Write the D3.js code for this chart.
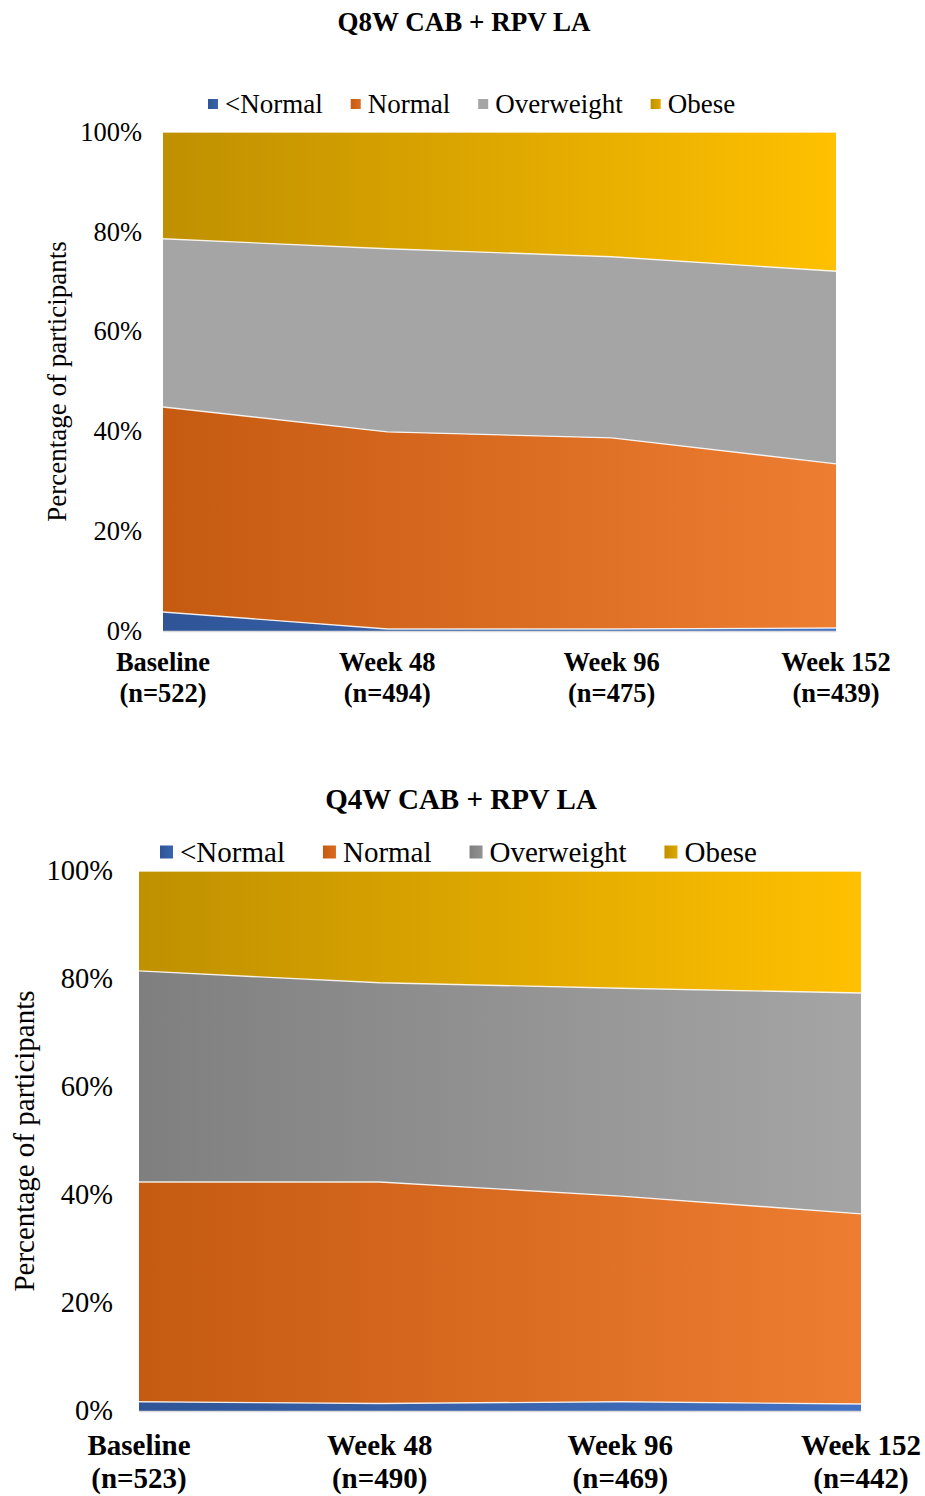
<!DOCTYPE html>
<html>
<head>
<meta charset="utf-8">
<script src="https://cdn.jsdelivr.net/npm/d3@7"></script>
<style>
  html, body { margin: 0; padding: 0; background: #fff; }
  svg { display: block; }
  text { font-family: "Liberation Serif", "Times New Roman", serif; fill: #000; }
</style>
</head>
<body>
<svg id="chart" width="925" height="1496"></svg>
<script>
// BMI category shares (%) at each visit, stacked to 100%
const categories = ["<Normal", "Normal", "Overweight", "Obese"];

const q8wVisits = ["Baseline", "Week 48", "Week 96", "Week 152"];
const q8wCounts = ["(n=522)", "(n=494)", "(n=475)", "(n=439)"];
const q8wBelowNormal = [3.8, 0.4, 0.4, 0.6];
const q8wNormal      = [41.1, 39.5, 38.3, 32.9];
const q8wOverweight  = [33.7, 36.7, 36.3, 38.6];
const q8wObese       = [21.4, 23.4, 25.0, 27.9];

const q4wVisits = ["Baseline", "Week 48", "Week 96", "Week 152"];
const q4wCounts = ["(n=523)", "(n=490)", "(n=469)", "(n=442)"];
const q4wBelowNormal = [1.7, 1.4, 1.7, 1.3];
const q4wNormal      = [40.7, 41.0, 38.1, 35.2];
const q4wOverweight  = [39.1, 36.9, 38.5, 40.9];
const q4wObese       = [18.5, 20.7, 21.7, 22.6];

const yTicks = [0, 20, 40, 60, 80, 100];

const svg = d3.select("#chart");
const defs = svg.append("defs");

function label(parent, x, y, str, opts) {
  return parent.append("text")
    .attr("x", x).attr("y", y)
    .attr("text-anchor", opts.anchor || "start")
    .style("font-size", opts.size + "px")
    .style("font-weight", opts.bold ? "bold" : "normal")
    .text(str);
}

function drawChart(cfg) {
  const id = cfg.id;
  const rows = cfg.visits.map((v, i) => ({
    visit: v,
    "<Normal": cfg.series[0][i],
    "Normal": cfg.series[1][i],
    "Overweight": cfg.series[2][i],
    "Obese": cfg.series[3][i]
  }));

  const x = d3.scalePoint().domain(cfg.visits).range([cfg.left, cfg.right]).padding(0);
  const y = d3.scaleLinear().domain([0, 100]).range([cfg.bottom, cfg.top]);

  const layers = d3.stack().keys(categories)(rows);

  // horizontal fill gradients across the plot, plus small legend swatch gradients
  layers.forEach((layer, i) => {
    const [c0, c1] = cfg.colors[i];
    const grad = defs.append("linearGradient")
      .attr("id", `${id}-g${i}`)
      .attr("gradientUnits", "userSpaceOnUse")
      .attr("x1", cfg.left).attr("x2", cfg.right)
      .attr("y1", 0).attr("y2", 0);
    grad.append("stop").attr("offset", "0%").attr("stop-color", c0);
    grad.append("stop").attr("offset", "100%").attr("stop-color", c1);

    const lg = defs.append("linearGradient")
      .attr("id", `${id}-l${i}`)
      .attr("x1", "0%").attr("x2", "100%").attr("y1", "0%").attr("y2", "0%");
    lg.append("stop").attr("offset", "0%").attr("stop-color", c0);
    lg.append("stop").attr("offset", "100%").attr("stop-color", d3.interpolateRgb(c0, c1)(0.5));
  });

  const g = svg.append("g");

  const area = d3.area()
    .x(d => x(d.data.visit))
    .y0(d => y(d[0]))
    .y1(d => y(d[1]));

  g.selectAll("path.area")
    .data(layers)
    .join("path")
    .attr("class", "area")
    .attr("d", area)
    .attr("fill", (d, i) => `url(#${id}-g${i})`);

  // light category-axis line at 0%
  g.append("line")
    .attr("x1", cfg.left).attr("x2", cfg.right)
    .attr("y1", y(0) + 0.5).attr("y2", y(0) + 0.5)
    .attr("stroke", "#d9d9d9").attr("stroke-width", 1.5);

  // white separators along each band's upper edge
  const edge = d3.line()
    .x(d => x(d.data.visit))
    .y(d => y(d[1]));
  g.selectAll("path.edge")
    .data(layers)
    .join("path")
    .attr("class", "edge")
    .attr("d", edge)
    .attr("fill", "none")
    .attr("stroke", "#ffffff")
    .attr("stroke-opacity", 0.85)
    .attr("stroke-width", 1.4);

  // y tick labels
  yTicks.forEach(t => {
    label(g, cfg.tickX, y(t) + cfg.tickSize * 0.33, t + "%", { size: cfg.tickSize, anchor: "end" });
  });

  // y axis title
  g.append("text")
    .attr("transform", `translate(${cfg.yTitleX},${(cfg.top + cfg.bottom) / 2}) rotate(-90)`)
    .attr("text-anchor", "middle")
    .style("font-size", cfg.yTitleSize + "px")
    .text("Percentage of participants");

  // x labels: visit + participant count
  cfg.visits.forEach((v, i) => {
    const cx = x(v);
    label(g, cx, cfg.xLab1, v, { size: cfg.xSize, anchor: "middle", bold: true });
    label(g, cx, cfg.xLab2, cfg.counts[i], { size: cfg.xSize, anchor: "middle", bold: true });
  });

  // title
  label(g, cfg.titleX, cfg.titleY, cfg.title, { size: cfg.titleSize, anchor: "middle", bold: true });

  // legend
  let lx = cfg.legendX;
  categories.forEach((c, i) => {
    g.append("rect")
      .attr("x", lx).attr("y", cfg.legendY - cfg.sw / 2)
      .attr("width", cfg.sw).attr("height", cfg.sw)
      .attr("fill", `url(#${id}-l${i})`);
    const t = label(g, lx + cfg.sw + cfg.swGap, cfg.legendY + cfg.legendSize * 0.33, c, { size: cfg.legendSize });
    const w = t.node().getComputedTextLength();
    lx += cfg.sw + cfg.swGap + w + cfg.itemGap;
  });
}

drawChart({
  id: "q8w",
  title: "Q8W CAB + RPV LA",
  visits: q8wVisits,
  counts: q8wCounts,
  series: [q8wBelowNormal, q8wNormal, q8wOverweight, q8wObese],
  colors: [["#2F5597", "#4472C4"], ["#C55A11", "#ED7D31"], ["#A5A5A5", "#A5A5A5"], ["#BF9000", "#FFC000"]],
  left: 163, right: 836, top: 132, bottom: 631,
  tickX: 142, tickSize: 26.5,
  yTitleX: 66, yTitleSize: 27,
  xLab1: 671, xLab2: 702, xSize: 26.5,
  titleX: 464, titleY: 31, titleSize: 27,
  legendX: 208, legendY: 104, legendSize: 27, sw: 10, swGap: 7, itemGap: 28
});

drawChart({
  id: "q4w",
  title: "Q4W CAB + RPV LA",
  visits: q4wVisits,
  counts: q4wCounts,
  series: [q4wBelowNormal, q4wNormal, q4wOverweight, q4wObese],
  colors: [["#2F5597", "#4472C4"], ["#C55A11", "#ED7D31"], ["#7F7F7F", "#A5A5A5"], ["#BF9000", "#FFC000"]],
  left: 139, right: 861, top: 871, bottom: 1411,
  tickX: 113, tickSize: 28.5,
  yTitleX: 34, yTitleSize: 29,
  xLab1: 1455, xLab2: 1488, xSize: 29,
  titleX: 461, titleY: 809, titleSize: 29,
  legendX: 160, legendY: 852, legendSize: 29, sw: 13, swGap: 7, itemGap: 38
});
</script>
</body>
</html>
